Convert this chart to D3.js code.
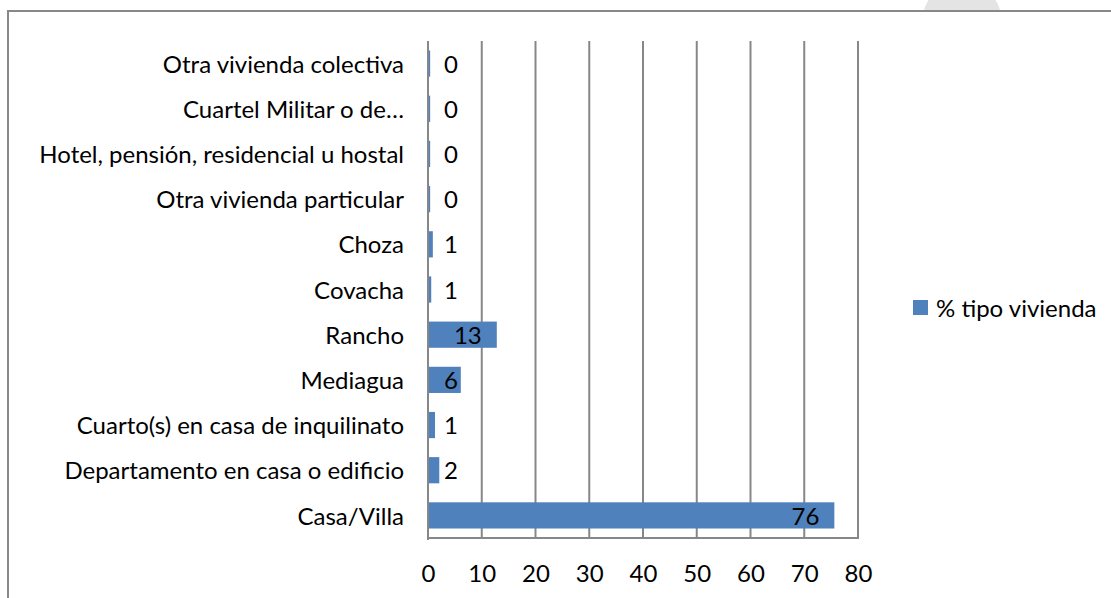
<!DOCTYPE html>
<html>
<head>
<meta charset="utf-8">
<script src="https://cdn.jsdelivr.net/npm/d3@7"></script>
<style>
  html, body { margin: 0; padding: 0; background: #fff; }
  svg { display: block; }
  text { font-family: Lato, sans-serif; fill: #000; }
</style>
</head>
<body>
<svg id="chart" width="1111" height="598"></svg>
<script>
// Housing type share (%), bottom to top as listed
const categories = [
  "Casa/Villa",
  "Departamento en casa o edificio",
  "Cuarto(s) en casa de inquilinato",
  "Mediagua",
  "Rancho",
  "Covacha",
  "Choza",
  "Otra vivienda particular",
  "Hotel, pensión, residencial u hostal",
  "Cuartel Militar o de…",
  "Otra vivienda colectiva"
];
const values = [75.6, 2.1, 1.3, 6.1, 12.8, 0.6, 0.9, 0.4, 0.4, 0.4, 0.4];
const xTicks = [0, 10, 20, 30, 40, 50, 60, 70, 80];
const seriesName = "% tipo vivienda";

const svg = d3.select("#chart");
const fontSize = 24;
const fam = "Lato, sans-serif";

// soft badge behind the chart frame
svg.append("circle")
  .attr("cx", 962).attr("cy", 22).attr("r", 40)
  .attr("fill", "#e4e4e4");

// chart frame
svg.append("rect")
  .attr("x", 8).attr("y", 11)
  .attr("width", 1200).attr("height", 700)
  .attr("fill", "#fff")
  .attr("stroke", "#888").attr("stroke-width", 2);

const plot = { left: 428, right: 858, top: 41, bottom: 538 };

const x = d3.scaleLinear().domain([0, 80]).range([plot.left, plot.right]);
const y = d3.scaleBand()
  .domain(categories)
  .range([plot.bottom, plot.top])
  .paddingInner(0.42)
  .paddingOuter(0.21);

// vertical gridlines
svg.append("g")
  .selectAll("line")
  .data(xTicks)
  .join("line")
  .attr("x1", d => x(d)).attr("x2", d => x(d))
  .attr("y1", plot.top).attr("y2", plot.bottom)
  .attr("stroke", "#878787").attr("stroke-width", 2);

// bars
const rows = categories.map((c, i) => ({ cat: c, val: values[i] }));
svg.append("g")
  .selectAll("rect")
  .data(rows)
  .join("rect")
  .attr("x", x(0))
  .attr("y", d => y(d.cat))
  .attr("width", d => x(d.val) - x(0))
  .attr("height", y.bandwidth())
  .attr("fill", "#4f81bd");

// value axis baseline and category axis line
svg.append("line")
  .attr("x1", plot.left - 1).attr("x2", plot.right + 1)
  .attr("y1", plot.bottom).attr("y2", plot.bottom)
  .attr("stroke", "#878787").attr("stroke-width", 2);
svg.append("line")
  .attr("x1", plot.left).attr("x2", plot.left)
  .attr("y1", plot.top).attr("y2", plot.bottom + 2)
  .attr("stroke", "#878787").attr("stroke-width", 2);

// x tick labels
const xAxis = d3.axisBottom(x).tickValues(xTicks).tickSize(0).tickPadding(0);
const gx = svg.append("g")
  .attr("transform", `translate(0,${plot.bottom})`)
  .call(xAxis);
gx.select(".domain").remove();
gx.selectAll("text")
  .attr("y", 36).attr("dy", "0.35em")
  .style("font-size", fontSize + "px")
  .style("font-family", fam)
  .attr("fill", "#000");

// category labels
const yAxis = d3.axisLeft(y).tickSize(0).tickPadding(24);
const gy = svg.append("g")
  .attr("transform", `translate(${plot.left},0)`)
  .call(yAxis);
gy.select(".domain").remove();
gy.selectAll("text")
  .attr("dy", "0.38em")
  .style("font-size", fontSize + "px")
  .style("font-family", fam)
  .attr("fill", "#000");

// data labels: inside the bar end when it fits, otherwise just right of the axis
const fmt = d3.format(".0f");
const minStart = plot.left + 16;
svg.append("g")
  .selectAll("text")
  .data(rows)
  .join("text")
  .attr("y", d => y(d.cat) + y.bandwidth() / 2)
  .attr("dy", "0.38em")
  .style("font-size", fontSize + "px")
  .text(d => fmt(d.val))
  .each(function (d) {
    const w = this.getComputedTextLength();
    const end = x(d.val) - 15;
    if (end - w < minStart) {
      d3.select(this).attr("x", minStart).attr("text-anchor", "start");
    } else {
      d3.select(this).attr("x", end).attr("text-anchor", "end");
    }
  });

// legend
const legend = svg.append("g").attr("transform", "translate(913,300)");
legend.append("rect")
  .attr("width", 15).attr("height", 15)
  .attr("fill", "#4f81bd");
legend.append("text")
  .attr("x", 23).attr("y", 7.5).attr("dy", "0.38em")
  .style("font-size", fontSize + "px")
  .text(seriesName);
</script>
</body>
</html>
